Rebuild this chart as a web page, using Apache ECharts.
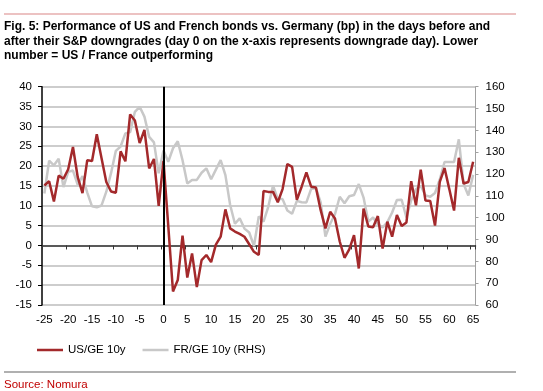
<!DOCTYPE html>
<html><head><meta charset="utf-8">
<script src="https://cdn.jsdelivr.net/npm/echarts@6/dist/echarts.min.js"></script>
<style>html,body{margin:0;padding:0;background:#fff}#c{width:543px;height:391px}</style>
</head><body><div id="c"></div>
<script>
const days = [-25,-24,-23,-22,-21,-20,-19,-18,-17,-16,-15,-14,-13,-12,-11,-10,-9,-8,-7,-6,-5,-4,-3,-2,-1,
  0,1,2,3,4,5,6,7,8,9,10,11,12,13,14,15,16,17,18,19,20,21,22,23,24,25,26,27,28,29,30,31,32,33,34,35,
  36,37,38,39,40,41,42,43,44,45,46,47,48,49,50,51,52,53,54,55,56,57,58,59,60,61,62,63,64,65];
const usGe = [15.1,16.2,11.1,17.6,16.8,19.2,24.8,17.2,13.2,21.5,21.3,28.0,22.0,16.0,13.6,13.3,23.7,21.2,33.0,31.5,25.8,29.1,19.4,21.8,10.0,
  21.3,5.0,-11.6,-8.7,2.5,-8.1,-2.0,-10.5,-3.7,-2.4,-4.2,0.2,2.2,9.1,4.3,3.5,2.9,2.2,0.3,-1.6,-2.4,13.7,13.5,13.5,10.9,14.2,20.5,19.8,11.5,14.8,18.4,14.8,14.6,8.9,4.3,8.5,
  6.8,1.0,-3.1,-1.0,2.6,-5.8,9.3,4.8,4.6,7.4,-0.8,6.0,2.2,7.7,4.9,5.8,16.2,10.1,19.1,11.3,11.2,5.0,16.0,19.5,14.2,8.8,22.1,15.6,16.0,21.1];
const frGe = [111.1,126.1,124,127,114,121,121.6,115,119,111.5,105.2,104.8,105.6,111.9,120.5,130.6,132.6,138.6,139.2,148.5,150.8,146.3,137,134.5,120.3,
  130.8,125.6,131.8,135,126.3,115.7,117.3,117.3,120.6,122.6,117.6,122,126.4,119.5,105.8,97.2,99.7,95,93.2,87,100.6,98.2,105,114.7,108.5,108.5,103.3,101.8,107.7,107.1,107,113.2,113.5,107,91.3,97.2,
  101.6,109.6,106.6,109.8,110.4,115.4,109.2,98.2,100.1,97,95.5,98,102.4,108.1,108.2,100.1,108,113,114.6,110.2,109.6,111.3,117.5,125.5,125.5,125.5,135.9,115.4,110.2,119.6];
const seriesNames = ['US/GE 10y', 'FR/GE 10y (RHS)'];
const titleText = 'Fig. 5: Performance of US and French bonds vs. Germany (bp) in the days before and\nafter their S&P downgrades (day 0 on the x-axis represents downgrade day). Lower\nnumber = US / France outperforming';
const sourceText = 'Source: Nomura';

const FONT = '"Liberation Sans", Arial, sans-serif';
const chart = echarts.init(document.getElementById('c'), null, {renderer: 'canvas'});
const cats = days.map(String);
chart.setOption({
  animation: false,
  backgroundColor: '#fff',
  textStyle: {fontFamily: FONT},
  title: {
    text: titleText, left: 4, top: 19, padding: 0,
    textStyle: {fontSize: 12, fontWeight: 'bold', color: '#000', lineHeight: 14.8, fontFamily: FONT}
  },
  graphic: [
    {type: 'line', shape: {x1: 4, y1: 14, x2: 516, y2: 14}, style: {stroke: '#d98585', lineWidth: 1}},
    {type: 'line', shape: {x1: 4, y1: 372, x2: 516, y2: 372}, style: {stroke: '#b0b0b0', lineWidth: 2}},
    {type: 'text', left: 4, top: 379, style: {text: sourceText, fill: '#c00000', font: '11.5px ' + FONT}}
  ],
  legend: {
    left: 32, top: 339, itemWidth: 26, itemHeight: 2.5, itemGap: 17, icon: 'rect',
    data: seriesNames,
    textStyle: {fontSize: 11.5, color: '#000', fontFamily: FONT}
  },
  grid: {left: 42, right: 67.5, top: 86.7, bottom: 86, containLabel: false},
  xAxis: [
    {type: 'category', data: cats, boundaryGap: true, position: 'bottom',
     axisLine: {show: false, onZero: false}, axisTick: {show: false},
     axisLabel: {interval: 4, fontSize: 11.5, color: '#000', margin: 9, fontFamily: FONT},
     splitLine: {show: false}},
    {type: 'category', data: cats, boundaryGap: true, position: 'bottom',
     axisLine: {show: true, onZero: true, onZeroAxisIndex: 0, lineStyle: {color: '#333', width: 1.5}},
     axisTick: {show: true, interval: 4, length: 4, lineStyle: {color: '#333', width: 1}},
     axisLabel: {show: false}, splitLine: {show: false}}
  ],
  yAxis: [
    {type: 'value', min: -15, max: 40, interval: 5, position: 'left',
     axisLine: {show: true, lineStyle: {color: '#000', width: 1.5}},
     axisTick: {show: true, length: 4, lineStyle: {color: '#000'}},
     axisLabel: {margin: 10, fontSize: 11.5, color: '#000', fontFamily: FONT},
     splitLine: {show: true, lineStyle: {color: '#bdbdbd', width: 1.5}}},
    {type: 'value', min: 60, max: 160, interval: 10, position: 'right',
     axisLine: {show: true, lineStyle: {color: '#a0a0a0', width: 1}},
     axisTick: {show: true, length: 3, lineStyle: {color: '#a0a0a0'}},
     axisLabel: {margin: 10, fontSize: 11.5, color: '#000', fontFamily: FONT},
     splitLine: {show: false}}
  ],
  series: [
    {name: seriesNames[1], type: 'line', xAxisIndex: 0, yAxisIndex: 1, data: frGe,
     symbol: 'none', color: '#c8c8c8', lineStyle: {width: 2.5, color: '#c8c8c8'}, z: 2},
    {name: seriesNames[0], type: 'line', xAxisIndex: 0, yAxisIndex: 0, data: usGe,
     symbol: 'none', color: '#a3292b', lineStyle: {width: 2.5, color: '#a3292b'}, z: 3,
     markLine: {silent: true, symbol: 'none', label: {show: false},
       lineStyle: {color: '#000', width: 2, type: 'solid'},
       data: [{xAxis: days.indexOf(0)}]}}
  ]
});
</script></body></html>
